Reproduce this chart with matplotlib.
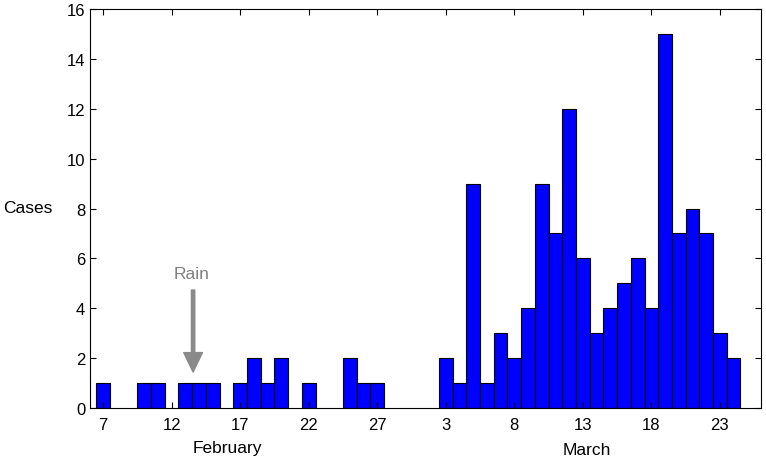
import matplotlib
matplotlib.use("Agg")
import matplotlib.pyplot as plt
import matplotlib.transforms as mtransforms

plt.rcParams['font.family'] = ['Liberation Sans', 'DejaVu Sans']

# daily case counts (day of month)
feb_days = [7, 10, 11, 13, 14, 15, 17, 18, 19, 20, 22, 25, 26, 27]
feb_cases = [1, 1, 1, 1, 1, 1, 1, 2, 1, 2, 1, 2, 1, 1]
mar_days = list(range(3, 25))
mar_cases = [2, 1, 9, 1, 3, 2, 4, 9, 7, 12, 6, 3, 4, 5, 6, 4, 15, 7, 8, 7, 3, 2]

feb_ticks = [7, 12, 17, 22, 27]
mar_ticks = [3, 8, 13, 18, 23]

# day index from Feb 7 (leap year, Feb has 29 days)
def feb_idx(d):
    return d - 7

def mar_idx(d):
    return d + 22

x = [feb_idx(d) for d in feb_days] + [mar_idx(d) for d in mar_days]
y = feb_cases + mar_cases

fig = plt.figure(figsize=(7.66, 4.6), dpi=100)
ax = fig.add_axes([0.1175, 0.111, 0.876, 0.867])

ax.bar(x, y, width=1.0, color="#0000ff", edgecolor="black", linewidth=0.8)

ax.set_xlim(-0.95, 48.0)
ax.set_ylim(0, 16)
ax.set_yticks(range(0, 17, 2))
ax.set_xticks([feb_idx(d) for d in feb_ticks] + [mar_idx(d) for d in mar_ticks])
ax.set_xticklabels([str(d) for d in feb_ticks + mar_ticks])
ax.tick_params(direction="in", top=True, right=True, length=4, labelsize=12, width=0.8)
ax.tick_params(axis="x", pad=6.5)
for s in ax.spines.values():
    s.set_linewidth(0.8)

ax.set_ylabel("Cases", rotation=0, fontsize=12.5, va="center", ha="center")
ax.yaxis.set_label_coords(-0.092, 0.503)

trans = mtransforms.blended_transform_factory(ax.transData, ax.transAxes)
ax.text(9.1, -0.098, "February", transform=trans, ha="center", va="center", fontsize=12.5)
ax.text(35.3, -0.103, "March", transform=trans, ha="center", va="center", fontsize=12.5)

# rain marker (Feb 13-14)
ax.annotate("", xy=(6.57, 1.44), xytext=(6.57, 4.73),
            arrowprops=dict(facecolor="#8a8a8a", edgecolor="#8a8a8a",
                            width=2.4, headwidth=13.5, headlength=14, shrink=0))
ax.text(6.45, 5.41, "Rain", color="#808080", ha="center", va="center", fontsize=12.5)

fig.savefig("out.png", dpi=100)
